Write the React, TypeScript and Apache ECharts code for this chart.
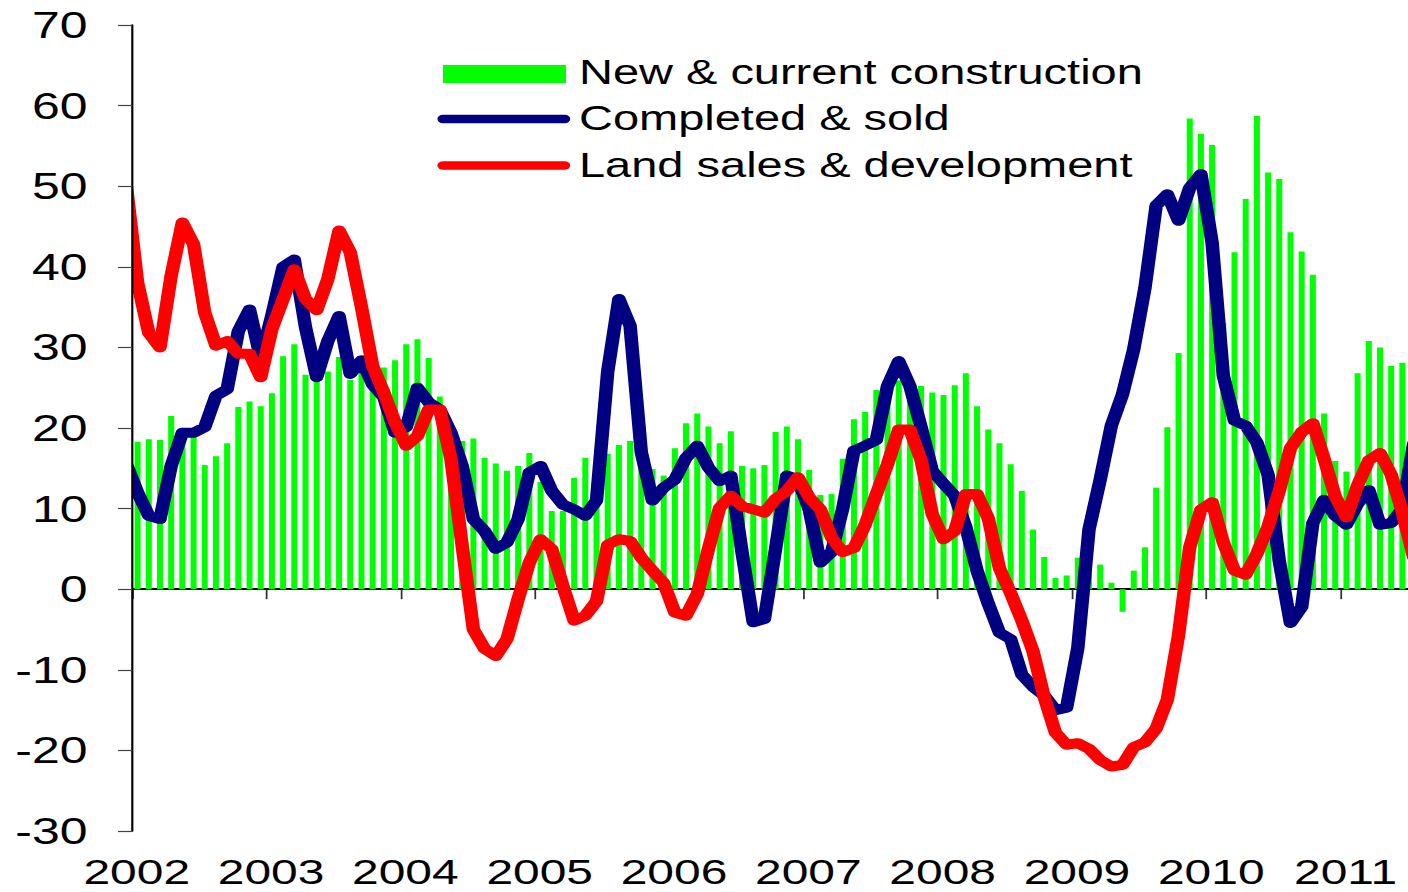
import React, { useEffect, useRef } from 'react';
import * as echarts from 'echarts';

// Year tick labels (one tick every 12 months, Jan 2002 = month 0)
const years = ['2002', '2003', '2004', '2005', '2006', '2007', '2008', '2009', '2010', '2011'];

// Monthly bars, Jan 2002 .. Jun 2011
const newConstruction = [
  18.3, 18.6, 18.5, 21.5, 19.5, 19.0, 15.4, 16.5, 18.1, 22.6, 23.3, 22.7,
  24.3, 28.9, 30.4, 26.6, 26.9, 27.0, 28.8, 26.0, 27.2, 26.0, 27.5, 28.4,
  30.4, 31.0, 28.7, 23.9, 20.6, 18.4, 18.7, 16.3, 15.6, 14.7, 15.3, 16.9,
  13.3, 9.7, 9.7, 13.8, 16.3, 11.0, 16.8, 17.9, 18.4, 16.5, 14.9, 14.1,
  17.5, 20.6, 21.8, 20.2, 18.1, 19.6, 15.3, 15.0, 15.4, 19.5, 20.2, 18.6,
  14.8, 11.7, 11.8, 16.2, 21.1, 22.0, 24.7, 25.3, 25.9, 25.0, 25.2, 24.4,
  24.1, 25.3, 26.8, 22.7, 19.8, 18.1, 15.5, 12.2, 7.4, 4.0, 1.4, 1.7,
  3.9, 3.0, 3.05, 0.8, -2.8, 2.3, 5.2, 12.6, 20.1, 29.3, 58.4, 56.5,
  55.1, 33.0, 41.8, 48.4, 58.7, 51.7, 50.9, 44.3, 41.9, 39.0, 21.8, 15.9,
  14.6, 26.8, 30.8, 30.0, 27.7, 28.1,
];

// Monthly lines, Dec 2001 .. Jul 2011 (first and last points fall outside the plot)
const completedSold = [
  15.5,
  12.0, 9.1, 8.7, 15.3, 19.4, 19.4, 20.1, 24.0, 24.8, 32.0, 34.7, 28.6,
  34.0, 40.0, 40.9, 32.5, 26.3, 30.8, 33.9, 26.7, 28.4, 25.4, 23.8, 19.4,
  20.1, 25.0, 23.2, 22.3, 19.4, 15.3, 8.7, 7.2, 5.0, 5.8, 8.7, 14.5,
  15.3, 12.2, 10.5, 9.9, 9.1, 11.0, 27.0, 36.0, 32.7, 17.0, 11.0, 12.6,
  13.6, 16.3, 17.8, 15.1, 13.4, 14.1, 4.6, -4.1, -3.7, 5.0, 14.1, 13.6,
  9.9, 3.3, 4.6, 10.0, 17.2, 17.8, 18.5, 25.2, 28.3, 25.2, 20.1, 14.7,
  13.1, 11.6, 7.7, 2.3, -1.8, -5.4, -6.2, -10.6, -12.1, -13.2, -15.0, -14.7,
  -7.3, 7.4, 13.6, 20.3, 24.2, 29.8, 37.4, 47.6, 49.0, 45.7, 49.8, 51.5,
  43.0, 26.5, 20.9, 20.3, 18.2, 14.2, 3.5, -4.2, -2.2, 8.2, 11.1, 9.1,
  8.0, 10.6, 12.3, 8.0, 8.2, 10.0, 18.0,
];

const landSales = [
  50.0,
  38.0, 31.8, 30.0, 38.9, 45.5, 42.8, 34.3, 30.2, 30.8, 29.2, 29.2, 26.3,
  32.3, 36.0, 39.7, 36.0, 34.6, 38.5, 44.5, 41.8, 35.0, 27.7, 24.4, 20.7,
  17.8, 19.0, 22.3, 22.3, 16.1, 5.4, -5.0, -7.4, -8.3, -6.2, -1.2, 3.3,
  6.2, 5.0, 0.4, -3.9, -3.3, -1.5, 5.5, 6.2, 6.0, 3.9, 2.3, 0.8,
  -2.9, -3.3, -0.6, 5.0, 10.1, 11.6, 10.3, 9.9, 9.5, 11.2, 12.2, 13.9,
  11.4, 9.9, 6.4, 4.6, 5.1, 8.0, 11.8, 15.5, 19.8, 19.8, 16.0, 9.3,
  6.2, 7.2, 11.8, 11.8, 8.8, 2.6, -0.5, -3.9, -7.7, -13.4, -17.8, -19.3,
  -19.1, -19.8, -21.2, -22.0, -21.8, -19.6, -19.0, -17.3, -13.7, -5.7, 5.2, 9.9,
  10.8, 5.8, 2.3, 1.8, 4.4, 7.8, 12.2, 17.5, 19.5, 20.6, 16.2, 11.5,
  8.9, 12.9, 16.0, 16.9, 14.2, 9.5, 4.0,
];

const seriesNames = ['New & current construction', 'Completed & sold', 'Land sales & development'];

// The reference is horizontally stretched; render narrower and stretch.
const S = 1.35;
const W = 1408 / S;
const H = 892;
const FONT = '"Liberation Sans", Arial, Helvetica, sans-serif';

export default function App() {
  const ref = useRef<HTMLDivElement>(null);

  useEffect(() => {
    document.body.style.margin = '0';
    document.body.style.overflow = 'hidden';
    const chart = echarts.init(ref.current!, null, { renderer: 'svg', width: W, height: H });

    const barData = newConstruction.map((v, i) => [i + 0.5, v]);
    const blueData = completedSold.map((v, i) => [i - 0.5, v]);
    const redData = landSales.map((v, i) => [i - 0.5, v]);
    const yearTicks = years.map((_, k) => k * 12);

    const gridLeft = 132 / S;
    const gridTop = 25;
    const gridBottom = 61;
    const legendX = 443 / S;
    const legendX2 = 566 / S;
    const textX = 579 / S;

    chart.setOption({
      animation: false,
      grid: { left: gridLeft, right: 0, top: gridTop, bottom: gridBottom, containLabel: false },
      xAxis: [
        {
          type: 'value',
          min: 0,
          max: 114,
          axisLine: { show: true, onZero: true, lineStyle: { color: '#000', width: 2 } },
          axisTick: { show: true, customValues: yearTicks, length: 10, lineStyle: { color: '#333', width: 1.3 } },
          axisLabel: { show: false },
          splitLine: { show: false },
        },
        {
          type: 'value',
          min: 0,
          max: 114,
          position: 'bottom',
          axisLine: { show: false, onZero: false },
          axisTick: { show: false },
          splitLine: { show: false },
          axisLabel: {
            show: true,
            customValues: yearTicks,
            formatter: (v: number) => years[Math.round(v / 12)] ?? '',
            fontSize: 35.5,
            lineHeight: 30,
            fontFamily: FONT,
            color: '#000',
            margin: 25.5,
            padding: [0, 0, 0, 7],
          },
        },
      ],
      yAxis: {
        type: 'value',
        min: -30,
        max: 70,
        interval: 10,
        z: 10,
        axisLine: { show: true, onZero: false, lineStyle: { color: '#000', width: 1.6 } },
        axisTick: { show: true, length: 10.4, lineStyle: { color: '#444', width: 1.2 } },
        axisLabel: { fontSize: 37, fontFamily: FONT, color: '#000', margin: 33 },
        splitLine: { show: false },
      },
      series: [
        {
          name: seriesNames[0],
          type: 'bar',
          xAxisIndex: 0,
          data: barData,
          barWidth: 6 / S,
          itemStyle: { color: '#00ff00' },
          z: 1,
        },
        {
          name: seriesNames[1],
          type: 'line',
          xAxisIndex: 0,
          data: blueData,
          showSymbol: false,
          symbol: 'none',
          clip: true,
          lineStyle: { color: '#000080', width: 10, cap: 'round', join: 'round' },
          z: 3,
        },
        {
          name: seriesNames[2],
          type: 'line',
          xAxisIndex: 0,
          data: redData,
          showSymbol: false,
          symbol: 'none',
          clip: true,
          lineStyle: { color: '#ff0000', width: 10, cap: 'round', join: 'round' },
          z: 4,
        },
      ],
      graphic: [
        // mask the few pixels left of the y axis that the line clip margin lets through
        {
          type: 'rect',
          z: 5,
          shape: { x: gridLeft - 9, y: gridTop - 6, width: 9, height: H - gridBottom - gridTop + 6 },
          style: { fill: '#fff' },
        },
        { type: 'rect', z: 6, shape: { x: legendX, y: 65, width: legendX2 - legendX, height: 18 }, style: { fill: '#00ff00' } },
        {
          type: 'line',
          z: 6,
          shape: { x1: legendX, y1: 119, x2: legendX2 - 1, y2: 119 },
          style: { stroke: '#000080', lineWidth: 8.3, lineCap: 'round' },
        },
        {
          type: 'line',
          z: 6,
          shape: { x1: legendX, y1: 165.5, x2: legendX2 - 1, y2: 165.5 },
          style: { stroke: '#ff0000', lineWidth: 8.3, lineCap: 'round' },
        },
        { type: 'text', z: 6, x: textX, y: 72, style: { text: seriesNames[0], fontSize: 34.8, fontFamily: FONT, fill: '#000', verticalAlign: 'middle' } },
        { type: 'text', z: 6, x: textX, y: 118.5, style: { text: seriesNames[1], fontSize: 34.8, fontFamily: FONT, fill: '#000', verticalAlign: 'middle' } },
        { type: 'text', z: 6, x: textX, y: 165, style: { text: seriesNames[2], fontSize: 34.8, fontFamily: FONT, fill: '#000', verticalAlign: 'middle' } },
      ],
    });

    return () => chart.dispose();
  }, []);

  return (
    <div
      ref={ref}
      style={{
        position: 'absolute',
        left: 0,
        top: 0,
        width: W,
        height: H,
        transform: `scaleX(${S})`,
        transformOrigin: '0 0',
      }}
    />
  );
}
